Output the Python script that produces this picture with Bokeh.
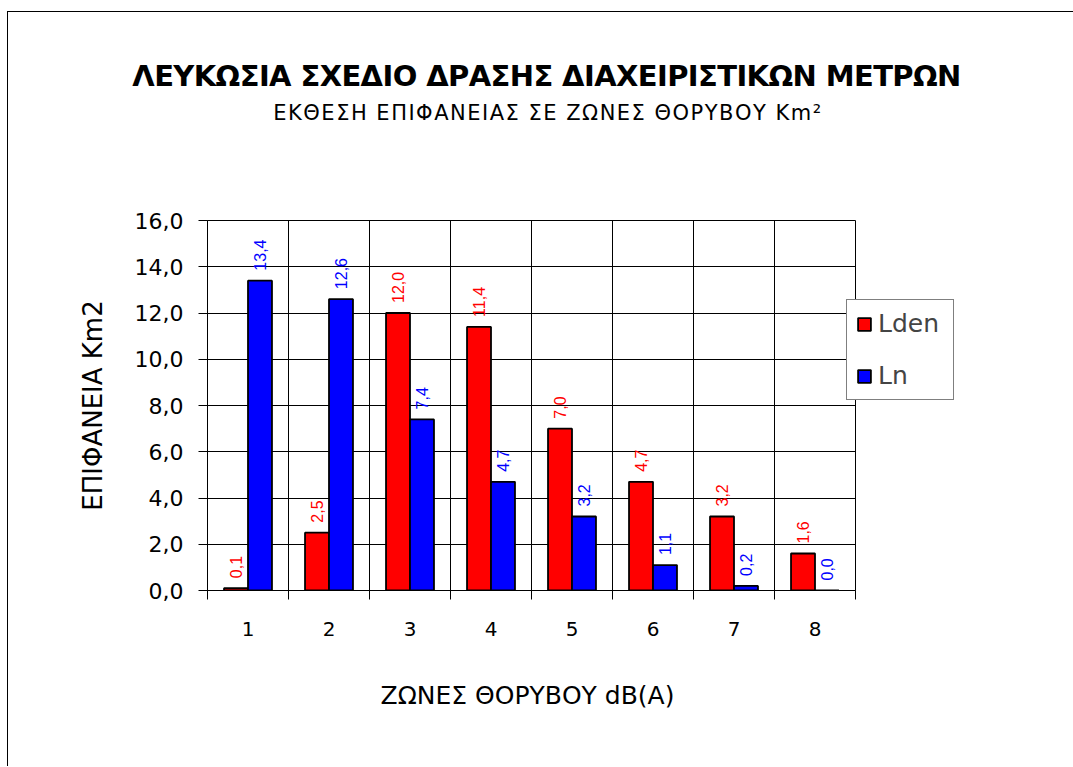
import numpy as np
from bokeh.plotting import figure
from bokeh.layouts import column
from bokeh.models import FixedTicker, Div, Legend, LegendItem
from bokeh.core.properties import value
from bokeh.embed import file_html
from bokeh.resources import INLINE

# ---- data ----
zones = [1, 2, 3, 4, 5, 6, 7, 8]
lden = [0.1, 2.5, 12.0, 11.4, 7.0, 4.7, 3.2, 1.6]
ln = [13.4, 12.6, 7.4, 4.7, 3.2, 1.1, 0.2, 0.0]
series_names = ["Lden", "Ln"]
series_colors = ["#FF0000", "#0000FF"]
y_ticks = [0, 2, 4, 6, 8, 10, 12, 14, 16]
y_tick_labels = ["0,0", "2,0", "4,0", "6,0", "8,0", "10,0", "12,0", "14,0", "16,0"]
title_text = "ΛΕΥΚΩΣΙΑ ΣΧΕΔΙΟ ΔΡΑΣΗΣ ΔΙΑΧΕΙΡΙΣΤΙΚΩΝ ΜΕΤΡΩΝ"
subtitle_text = "ΕΚΘΕΣΗ ΕΠΙΦΑΝΕΙΑΣ ΣΕ ΖΩΝΕΣ ΘΟΡΥΒΟΥ Km²"
x_label = "ΖΩΝΕΣ ΘΟΡΥΒΟΥ  dB(A)"
y_label = "ΕΠΙΦΑΝΕΙΑ Km2"

FONT = "DejaVu Sans"
bar_w = 0.296
z = np.array(zones, dtype=float)
boundaries = [v - 0.5 for v in zones] + [zones[-1] + 0.5]

# ---- titles (HTML text) ----
title_div = Div(
    text=('<div style="margin-left:17px;width:1043px;text-align:center;padding-top:47px;'
          'font-family:\'DejaVu Sans\';font-weight:bold;font-size:29px;line-height:34px;'
          'letter-spacing:-0.6px;color:black;white-space:nowrap;">' + title_text + '</div>'),
    width=1060, height=81, margin=0)
subtitle_div = Div(
    text=('<div style="margin-left:19px;width:1042px;text-align:center;padding-top:8px;'
          'font-family:\'DejaVu Sans\';font-weight:normal;font-size:21px;line-height:25px;'
          'letter-spacing:1.5px;color:black;white-space:nowrap;">' + subtitle_text + '</div>'),
    width=1060, height=33, margin=0)

p = figure(frame_width=648, frame_height=370, title=None,
           x_range=(zones[0] - 0.5, zones[-1] + 0.5), y_range=(y_ticks[0], y_ticks[-1]),
           output_backend="svg", toolbar_location=None,
           min_border_left=199, min_border_right=213,
           min_border_top=94, min_border_bottom=176, margin=0)
p.background_fill_color = "white"
p.border_fill_color = "white"
p.outline_line_color = "black"

# grids
p.xgrid.ticker = FixedTicker(ticks=boundaries)
p.xgrid.grid_line_color = "black"
p.ygrid.ticker = FixedTicker(ticks=y_ticks)
p.ygrid.grid_line_color = "black"

# bars
r1 = p.vbar(x=z - bar_w / 2, top=lden, width=bar_w, bottom=0,
            fill_color=series_colors[0], line_color="black", line_width=1.8)
r2 = p.vbar(x=z + bar_w / 2, top=ln, width=bar_w, bottom=0,
            fill_color=series_colors[1], line_color="black", line_width=1.8)

# data labels
fmt = lambda v: f"{v:.1f}".replace(".", ",")
for xs, vals, col in [(z - bar_w / 2, lden, series_colors[0]), (z + bar_w / 2, ln, series_colors[1])]:
    p.text(x=xs, y=vals, text=[fmt(v) for v in vals], angle=np.pi / 2,
           text_align="left", text_baseline="middle", y_offset=-10,
           text_color=col, text_font=value("Liberation Sans"), text_font_size="16px")

# x axis
p.xaxis.ticker = FixedTicker(ticks=zones, minor_ticks=boundaries)
p.xaxis.major_label_overrides = {v: str(v) for v in zones}
p.xaxis.major_tick_out = 0
p.xaxis.major_tick_in = 0
p.xaxis.minor_tick_out = 9
p.xaxis.minor_tick_in = 0
p.xaxis.minor_tick_line_color = "black"
p.xaxis.axis_line_color = "black"
p.xaxis.major_label_standoff = 22
p.xaxis.major_label_text_font = FONT
p.xaxis.major_label_text_font_size = "20px"
p.xaxis.major_label_text_color = "black"
p.xaxis.axis_label = x_label
p.xaxis.axis_label_text_font = FONT
p.xaxis.axis_label_text_font_size = "25px"
p.xaxis.axis_label_text_font_style = "normal"
p.xaxis.axis_label_standoff = 42
p.xaxis.axis_label_text_color = "black"

# y axis
p.yaxis.ticker = FixedTicker(ticks=y_ticks)
p.yaxis.major_label_overrides = dict(zip(y_ticks, y_tick_labels))
p.yaxis.major_tick_out = 9
p.yaxis.major_tick_in = 0
p.yaxis.minor_tick_line_color = None
p.yaxis.axis_line_color = "black"
p.yaxis.major_tick_line_color = "black"
p.yaxis.major_label_standoff = 15
p.yaxis.major_label_text_font = FONT
p.yaxis.major_label_text_font_size = "22px"
p.yaxis.major_label_text_color = "black"
p.yaxis.axis_label = y_label
p.yaxis.axis_label_text_font = FONT
p.yaxis.axis_label_text_font_size = "26px"
p.yaxis.axis_label_text_font_style = "normal"
p.yaxis.axis_label_standoff = 24
p.yaxis.axis_label_text_color = "black"

# legend
legend = Legend(items=[LegendItem(label=series_names[0], renderers=[r1]),
                       LegendItem(label=series_names[1], renderers=[r2])],
                location=(-9, 190), orientation="vertical")
legend.label_text_font = FONT
legend.label_text_font_size = "25px"
legend.glyph_width = 16
legend.glyph_height = 16
legend.label_height = 26
legend.label_width = 66
legend.label_standoff = 6
legend.spacing = 23
legend.padding = 9
legend.margin = 0
legend.border_line_color = "black"
legend.border_line_width = 1
legend.background_fill_color = "white"
legend.background_fill_alpha = 1.0
p.add_layout(legend, "right")

layout = column(title_div, subtitle_div, p, spacing=0,
                styles={"border-left": "1px solid black", "border-top": "1px solid black",
                        "position": "relative", "top": "11px", "left": "7px",
                        "background-color": "white"})

open("out.html", "w").write(file_html(layout, INLINE))
